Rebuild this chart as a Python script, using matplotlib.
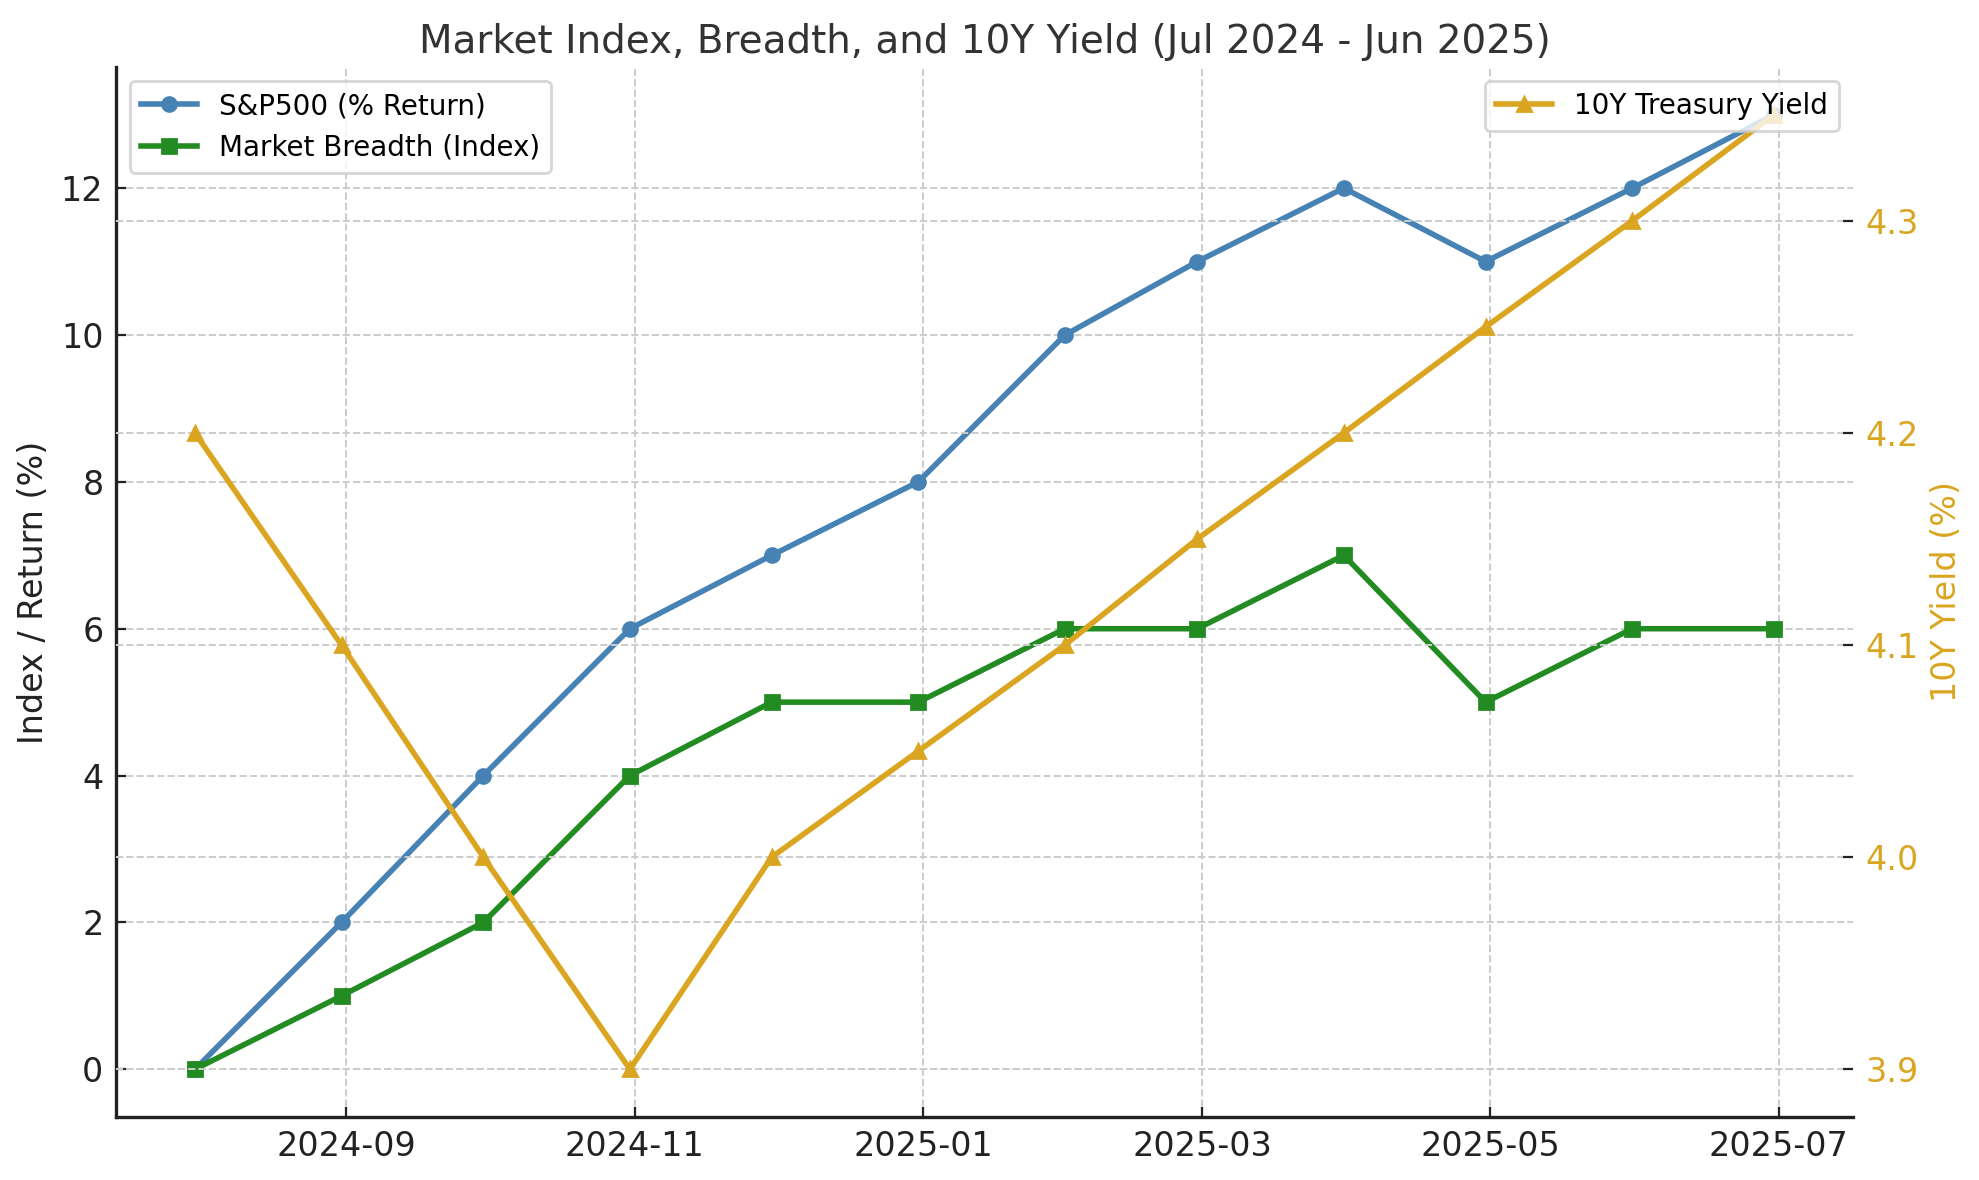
import matplotlib
matplotlib.use("Agg")
import matplotlib.pyplot as plt
import pandas as pd

dates = pd.to_datetime([
    "2024-07-31", "2024-08-31", "2024-09-30", "2024-10-31", "2024-11-30", "2024-12-31",
    "2025-01-31", "2025-02-28", "2025-03-31", "2025-04-30", "2025-05-31", "2025-06-30",
])
sp500 = [0, 2, 4, 6, 7, 8, 10, 11, 12, 11, 12, 13]
breadth = [0, 1, 2, 4, 5, 5, 6, 6, 7, 5, 6, 6]
yield10 = [4.2, 4.1, 4.0, 3.9, 4.0, 4.05, 4.1, 4.15, 4.2, 4.25, 4.3, 4.35]
yield_ticks = [3.9, 4.0, 4.1, 4.2, 4.3]

plt.rcParams['font.family'] = ['DejaVu Sans']
DPI = 200
fig = plt.figure(figsize=(1979 / DPI, 1180 / DPI), dpi=DPI)
ax = fig.add_axes([116 / 1979, 1 - 1117 / 1180, (1853 - 116) / 1979, (1117 - 67) / 1180])

ax.plot(dates, sp500, color='steelblue', marker='o', lw=2, ms=5, label='S&P500 (% Return)')
ax.plot(dates, breadth, color='forestgreen', marker='s', lw=2, ms=5, label='Market Breadth (Index)')
ax.set_ylabel('Index / Return (%)', fontsize=12, color='#222222')
ax.grid(True, linestyle='--', color='#cccccc', lw=0.7)
for s in ['top', 'right']:
    ax.spines[s].set_visible(False)
for s in ['left', 'bottom']:
    ax.spines[s].set_linewidth(1.2)
    ax.spines[s].set_color('#222222')
ax.tick_params(labelsize=12, colors='#222222', length=3.5, direction='in', pad=4.5)
ax.xaxis.set_major_formatter(matplotlib.dates.DateFormatter('%Y-%m'))
ax.xaxis.set_major_locator(matplotlib.dates.MonthLocator(bymonth=[1, 3, 5, 7, 9, 11]))

ax2 = ax.twinx()
ax2.plot(dates, yield10, color='goldenrod', marker='^', lw=2, ms=5, label='10Y Treasury Yield')
ax2.set_ylabel('10Y Yield (%)', fontsize=12, color='goldenrod')
ax2.grid(True, linestyle='--', color='#cccccc', lw=0.7)
for s in ax2.spines.values():
    s.set_visible(False)
ax2.set_yticks(yield_ticks)
ax2.tick_params(axis='y', labelsize=12, length=3.5, direction='in', pad=4.5, colors='#222222', labelcolor='goldenrod')

ax.set_title('Market Index, Breadth, and 10Y Yield (Jul 2024 - Jun 2025)', fontsize=14, color='#333333', pad=5)
ax.legend(loc='upper left', fontsize=10, framealpha=0.8, edgecolor='#cccccc')
ax2.legend(loc='upper right', fontsize=10, framealpha=0.8, edgecolor='#cccccc')

fig.savefig('out.png', dpi=DPI)
